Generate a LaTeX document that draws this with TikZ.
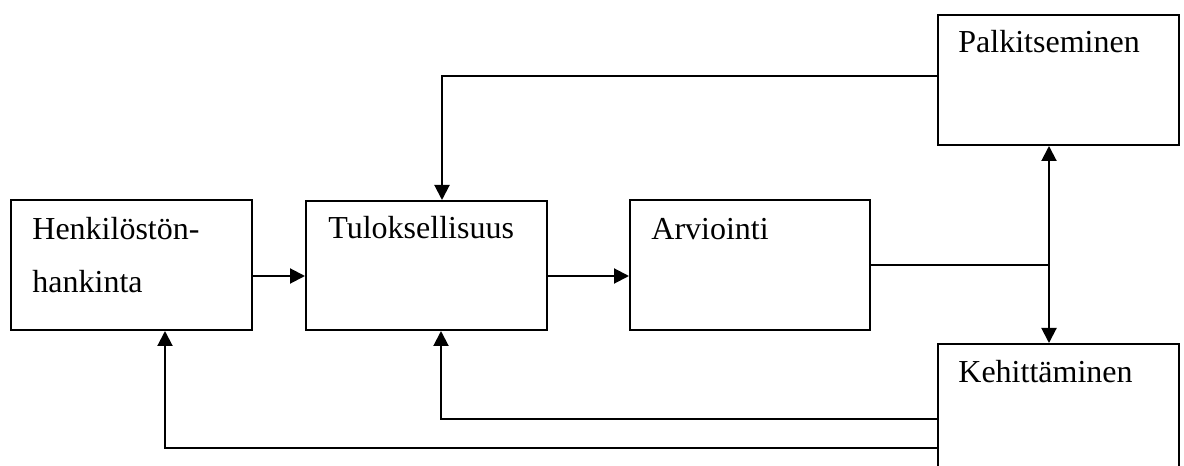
\documentclass[tikz,border=0pt]{standalone}
\usepackage{fontspec}
\setmainfont{Liberation Serif}
\usetikzlibrary{arrows.meta}
\begin{document}
\begin{tikzpicture}[x=0.5pt,y=0.5pt,
  box/.style={draw, line width=1pt, rectangle, inner sep=0pt, anchor=north west},
  lbl/.style={anchor=base west, inner sep=0pt, font=\fontsize{16}{19}\selectfont},
  conn/.style={line width=1pt},
  arr/.style={conn, -{Triangle[length=7.5pt,width=7.5pt]}}]
\useasboundingbox (0,0) rectangle (1184,466);
\clip (0,0) rectangle (1184,466);
% boxes (pixel coords, y up = 466 - y_px)
\node[box, minimum width=120.5pt, minimum height=65pt] (H) at (10,267) {};
\node[box, minimum width=120.5pt, minimum height=64.5pt] (T) at (305,266) {};
\node[box, minimum width=120pt, minimum height=65pt] (A) at (629,267) {};
\node[box, minimum width=120.5pt, minimum height=65pt] (P) at (937,452) {};
\node[box, minimum width=120.5pt, minimum height=80pt] (K) at (937,123) {};
% labels
\node[lbl] (Ht1) at (32,226) {Henkilöstön-};
\node[lbl] (Ht2) at (32,173) {hankinta};
\node[lbl] (Tt) at (328,227) {Tuloksellisuus};
\node[lbl] (At) at (651,226) {Arviointi};
\node[lbl] (Pt) at (958,413) {Palkitseminen};
\node[lbl] (Kt) at (958,83) {Kehittäminen};
% connectors
\draw[arr] (H.east |- 0,190) -- (T.west |- 0,190);
\draw[arr] (T.east |- 0,190) -- (A.west |- 0,190);
\draw[arr] (P.west |- 0,390) -| (442,0 |- T.north);
\coordinate (J) at (1049,201);
\draw[conn] (A.east |- J) -- (J);
\draw[arr] (J) -- (J |- P.south);
\draw[arr] (J) -- (J |- K.north);
\draw[arr] (K.west |- 0,47) -| (441,0 |- T.south);
\draw[arr] (K.west |- 0,18) -| (165,0 |- H.south);
\end{tikzpicture}
\end{document}
